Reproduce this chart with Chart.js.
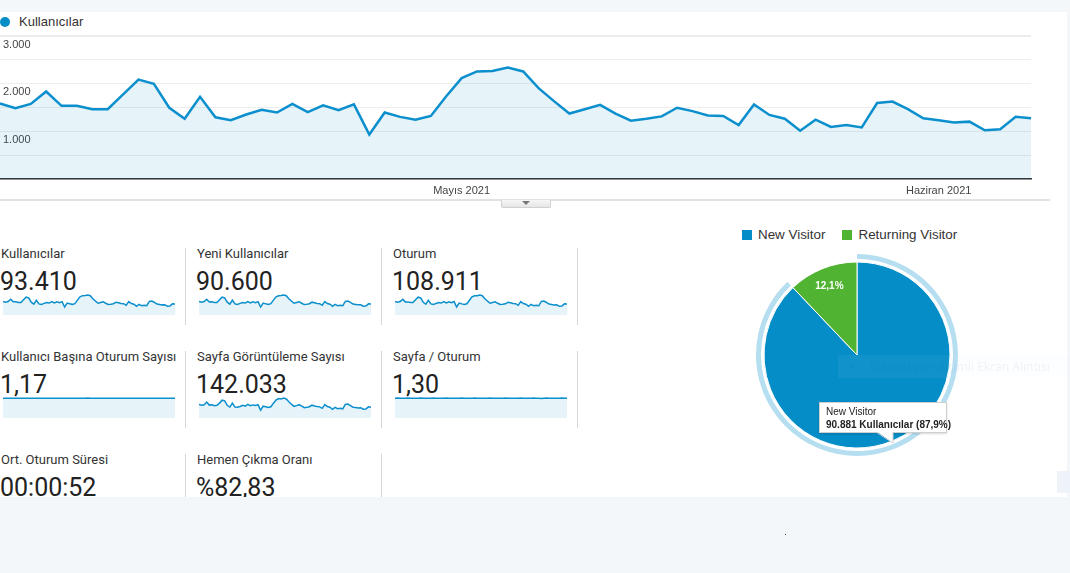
<!DOCTYPE html>
<html>
<head>
<meta charset="utf-8">
<script src="https://cdn.jsdelivr.net/npm/chart.js@4.4.1/dist/chart.umd.min.js"></script>
<style>
  body { margin: 0; width: 1070px; height: 573px; background: #f4f7fa; position: relative; overflow: hidden; font-family: Roboto, Arial, sans-serif; }
  .abs { position: absolute; }
  .panel { left: 0; top: 12px; width: 1067px; height: 485px; background: #fff; }
  .legend-main { left: 0; top: 14px; font: 13px "Liberation Sans", Arial, sans-serif; color: #333; }
  .legend-main .dot { position: absolute; left: 0; top: 3px; width: 10px; height: 10px; border-radius: 50%; background: #058dc7; }
  .legend-main span.t { position: absolute; left: 19px; top: 0; white-space: nowrap; }
  .divider { left: 0; top: 199px; width: 1050px; height: 2px; background: #e2e2e2; }
  .tab { left: 501px; top: 200px; width: 50px; height: 8px; background: linear-gradient(#f6f6f6, #e6e6e6); border: 1px solid #d0d0d0; border-top: none; box-sizing: border-box; border-radius: 0 0 2px 2px; }
  .tab:after { content: ""; position: absolute; left: 20px; top: 1px; border-left: 4px solid transparent; border-right: 4px solid transparent; border-top: 4px solid #777; }
  .cell { width: 185px; height: 80px; }
  .cell .lab { position: absolute; left: 1px; top: 0; font-size: 13px; color: #333; white-space: nowrap; }
  .cell .val { position: absolute; left: 0; top: 21px; font-size: 25px; color: #222; white-space: nowrap; }
  .cell canvas { position: absolute; left: 3px; top: 48px; }
  .vline { width: 1px; background: #d6d6d6; }
  .pie-legend { left: 742px; top: 227px; font: 13.4px "Liberation Sans", Arial, sans-serif; color: #333; white-space: nowrap; }
  .pie-legend i { display: inline-block; width: 10px; height: 10px; vertical-align: -1px; margin-right: 6px; }
  .tip { left: 819px; top: 402px; width: 128px; height: 31px; background: #fff; border: 1px solid #cfcfcf; box-sizing: border-box; box-shadow: 0 1px 2px rgba(0,0,0,0.15); font: 10px "Liberation Sans", Arial, sans-serif; color: #222; z-index: 6; }
  .tip div { position: absolute; left: 6px; white-space: nowrap; }
  .snip { left: 838px; top: 355px; width: 232px; height: 23px; background: rgba(225,236,248,0.06); z-index: 5; font: 12px "Noto Sans", sans-serif; color: rgba(20,60,130,0.06); }
  .bottom { left: 0; top: 497px; width: 1070px; height: 76px; background: #f4f7fa; z-index: 10; }
</style>
</head>
<body>
<div class="abs panel"></div>
<div class="abs legend-main"><div class="dot"></div><span class="t">Kullanıcılar</span></div>
<div class="abs" style="left:-5px;top:26px;width:1041px;height:175px;"><canvas id="mainChart"></canvas></div>
<div class="abs divider"></div>
<div class="abs tab"></div>
<div id="cells"></div>
<div class="abs pie-legend"><i style="background:#058dc7"></i>New Visitor<i style="background:#50b432;margin-left:17px"></i>Returning Visitor</div>
<div class="abs" style="left:752px;top:250px;width:210px;height:210px;"><canvas id="pieChart"></canvas></div>
<div class="abs snip"><span style="position:absolute;left:10px;top:2px;">&#9679;</span><span style="position:absolute;left:32px;top:3px;white-space:nowrap;">Dikdörtgen Biçimli Ekran Alıntısı</span></div>
<div class="abs tip"><div id="tipTitle" style="top:3px;"></div><div id="tipBody" style="top:16px;font-weight:bold;"></div></div>
<svg class="abs" style="left:870px;top:431px;z-index:7;" width="30" height="16"><polygon points="6,0 23,0 23,12" fill="#fff"/><polyline points="6,1 23,12 23,1" fill="none" stroke="#cfcfcf" stroke-width="1"/></svg>
<div class="abs" style="left:1057px;top:471px;width:13px;height:22px;background:#eef3f9;"></div>
<div class="abs bottom"></div>
<div class="abs" style="left:785px;top:534px;width:1px;height:1px;background:#444;z-index:11;"></div>

<script>
// days: 1 Nisan - 7 Haziran 2021
const days = [
  '1 Nis','2 Nis','3 Nis','4 Nis','5 Nis','6 Nis','7 Nis','8 Nis','9 Nis','10 Nis',
  '11 Nis','12 Nis','13 Nis','14 Nis','15 Nis','16 Nis','17 Nis','18 Nis','19 Nis','20 Nis',
  '21 Nis','22 Nis','23 Nis','24 Nis','25 Nis','26 Nis','27 Nis','28 Nis','29 Nis','30 Nis',
  '1 May','2 May','3 May','4 May','5 May','6 May','7 May','8 May','9 May','10 May',
  '11 May','12 May','13 May','14 May','15 May','16 May','17 May','18 May','19 May','20 May',
  '21 May','22 May','23 May','24 May','25 May','26 May','27 May','28 May','29 May','30 May',
  '31 May','1 Haz','2 Haz','3 Haz','4 Haz','5 Haz','6 Haz','7 Haz'
];
const tickDays = ['1 May', '1 Haz'];
const tickLabels = ['Mayıs 2021', 'Haziran 2021'];
const yTicks = [1000, 2000, 3000];

const users = [
  1580,1480,1570,1830,1530,1530,1460,1460,1770,2080,
  1990,1490,1260,1720,1290,1230,1350,1450,1390,1570,
  1400,1540,1440,1560,930,1390,1300,1240,1320,1730,
  2110,2250,2260,2330,2250,1900,1630,1370,1460,1550,
  1370,1220,1260,1310,1490,1420,1330,1320,1130,1560,
  1340,1260,1010,1240,1090,1130,1080,1590,1620,1460,
  1270,1230,1180,1200,1020,1040,1300,1270
];
const newUsers = [
  1540,1440,1520,1780,1480,1490,1420,1410,1720,2020,
  1930,1450,1220,1670,1250,1190,1310,1410,1350,1520,
  1360,1500,1400,1510,900,1350,1260,1200,1280,1680,
  2050,2180,2200,2260,2180,1840,1580,1330,1420,1500,
  1330,1180,1220,1270,1450,1380,1290,1280,1100,1510,
  1300,1220,980,1200,1060,1100,1050,1540,1570,1420,
  1230,1190,1150,1160,990,1010,1260,1230
];
const sessions = [
  1850,1730,1840,2140,1790,1790,1710,1710,2070,2430,
  2330,1740,1470,2010,1510,1440,1580,1700,1630,1840,
  1640,1800,1680,1830,1090,1630,1520,1450,1540,2020,
  2470,2630,2640,2730,2630,2220,1910,1600,1710,1810,
  1600,1430,1470,1530,1740,1660,1560,1540,1320,1830,
  1570,1470,1180,1450,1280,1320,1260,1860,1900,1710,
  1490,1440,1380,1400,1190,1220,1520,1490
];
const pageviews = [
  2400,2280,2350,2830,2300,2370,2200,2250,2650,3170,
  3050,2260,1950,2650,1950,1900,2040,2250,2100,2420,
  2180,2330,2220,2380,1380,2100,2010,1880,2000,2640,
  3200,3450,3400,3560,3380,2900,2460,2080,2200,2370,
  2100,1840,1900,2000,2280,2140,2050,1980,1720,2380,
  2030,1930,1530,1880,1650,1730,1640,2420,2480,2200,
  1920,1880,1780,1840,1560,1580,1990,1930
];
const sessionsPerUser = [
  1.17,1.17,1.17,1.17,1.17,1.17,1.17,1.17,1.17,1.17,
  1.17,1.17,1.16,1.17,1.17,1.17,1.17,1.17,1.17,1.17,
  1.17,1.17,1.17,1.17,1.17,1.17,1.17,1.17,1.17,1.17,
  1.17,1.17,1.17,1.18,1.17,1.17,1.17,1.17,1.17,1.17,
  1.17,1.17,1.17,1.17,1.17,1.17,1.17,1.17,1.17,1.17,
  1.17,1.17,1.17,1.17,1.17,1.17,1.17,1.17,1.17,1.17,
  1.17,1.17,1.17,1.17,1.17,1.17,1.17,1.17
];
const pagesPerSession = [
  1.30,1.31,1.29,1.30,1.30,1.31,1.29,1.30,1.29,1.30,
  1.31,1.30,1.29,1.30,1.30,1.31,1.30,1.29,1.30,1.30,
  1.31,1.30,1.30,1.29,1.30,1.30,1.31,1.30,1.30,1.29,
  1.30,1.31,1.30,1.30,1.29,1.30,1.30,1.31,1.30,1.30,
  1.29,1.30,1.30,1.31,1.30,1.30,1.29,1.30,1.30,1.31,
  1.30,1.29,1.30,1.30,1.31,1.30,1.29,1.28,1.30,1.31,
  1.30,1.30,1.29,1.30,1.30,1.31,1.30,1.30
];

const metricLabels = ['Kullanıcılar', 'Yeni Kullanıcılar', 'Oturum', 'Kullanıcı Başına Oturum Sayısı',
  'Sayfa Görüntüleme Sayısı', 'Sayfa / Oturum', 'Ort. Oturum Süresi', 'Hemen Çıkma Oranı'];
const metricValues = ['93.410', '90.600', '108.911', '1,17', '142.033', '1,30', '00:00:52', '%82,83'];
const metricSeries = [users, newUsers, sessions, sessionsPerUser, pageviews, pagesPerSession, null, null];

const visitorLabels = ['New Visitor', 'Returning Visitor'];
const visitorCounts = [90881, 12510];

const blue = '#0b8fcd';
const fillBlue = 'rgba(5,141,199,0.1)';
const fmt = n => String(n).replace(/\B(?=(\d{3})+(?!\d))/g, '.');

Chart.defaults.animation = false;
Chart.defaults.font.family = '"Liberation Sans", Arial, sans-serif';

// main line chart
new Chart(document.getElementById('mainChart'), {
  type: 'line',
  data: {
    labels: days,
    datasets: [{
      data: users,
      borderColor: blue,
      backgroundColor: fillBlue,
      borderWidth: 2.5,
      pointRadius: 0,
      fill: 'origin',
      tension: 0
    }]
  },
  options: {
    responsive: true,
    maintainAspectRatio: false,
    events: [],
    layout: { padding: { top: 6, left: 0, right: 0, bottom: 0 } },
    plugins: { legend: { display: false }, tooltip: { enabled: false } },
    scales: {
      x: {
        offset: false,
        grid: { display: false, drawTicks: false },
        border: { display: true, color: '#333', width: 1.5 },
        afterFit: axis => { axis.height = 22; },
        ticks: {
          autoSkip: false, maxRotation: 0, padding: 5,
          color: '#444', font: { size: 11 },
          callback: (v, i) => {
            const k = tickDays.indexOf(days[i]);
            return k >= 0 ? tickLabels[k] : '';
          }
        }
      },
      y: {
        min: 0, max: 3000,
        afterFit: axis => { axis.width = 0; },
        border: { display: false },
        grid: {
          drawTicks: false,
          color: ctx => ctx.tick.value === 3000 ? '#ececec' : '#eeeeee',
          lineWidth: ctx => ctx.tick.value === 3000 ? 2 : 1
        },
        ticks: {
          stepSize: 500, mirror: true, padding: 3, labelOffset: 9,
          color: '#444', font: { size: 11 },
          callback: v => yTicks.includes(v) ? fmt(v) : ''
        }
      }
    }
  }
});

// metric cells with sparklines
const cellsEl = document.getElementById('cells');
metricLabels.forEach((label, i) => {
  const col = i % 3, row = Math.floor(i / 3);
  const left = [0, 196, 392][col];
  const top = 246 + row * 103;
  const cell = document.createElement('div');
  cell.className = 'abs cell';
  cell.style.left = left + 'px';
  cell.style.top = top + 'px';
  cell.innerHTML = '<div class="lab">' + label + '</div><div class="val">' + metricValues[i] + '</div>';
  cellsEl.appendChild(cell);

  const line = document.createElement('div');
  line.className = 'abs vline';
  line.style.left = (left + 185) + 'px';
  line.style.top = (top + 2) + 'px';
  line.style.height = '77px';
  cellsEl.appendChild(line);

  const series = metricSeries[i];
  if (!series) return;
  const cv = document.createElement('canvas');
  cv.width = 172; cv.height = 21;
  cv.style.width = '172px'; cv.style.height = '21px';
  cell.appendChild(cv);
  new Chart(cv, {
    type: 'line',
    data: { labels: days, datasets: [{ data: series, borderColor: blue, backgroundColor: fillBlue, borderWidth: 1.5, pointRadius: 0, fill: 'origin', tension: 0 }] },
    options: {
      responsive: false, events: [],
      layout: { padding: 0 },
      plugins: { legend: { display: false }, tooltip: { enabled: false } },
      scales: {
        x: { display: false, offset: false },
        y: { display: false, min: 0, max: Math.max(...series) * 1.05 }
      }
    }
  });
});

// pie chart
const total = visitorCounts[0] + visitorCounts[1];
const pct = v => (v / total * 100).toFixed(1).replace('.', ',') + '%';
document.getElementById('tipTitle').textContent = visitorLabels[0];
document.getElementById('tipBody').textContent = fmt(visitorCounts[0]) + ' Kullanıcılar (' + pct(visitorCounts[0]) + ')';

const sliceLabel = {
  id: 'sliceLabel',
  afterDatasetsDraw(chart) {
    const arc = chart.getDatasetMeta(2).data[1];
    const { x, y, startAngle, endAngle, outerRadius } = arc.getProps(['x', 'y', 'startAngle', 'endAngle', 'outerRadius']);
    const mid = (startAngle + endAngle) / 2;
    const ctx = chart.ctx;
    ctx.save();
    ctx.fillStyle = '#fff';
    ctx.font = 'bold 10px "Liberation Sans", Arial, sans-serif';
    ctx.textAlign = 'center';
    ctx.textBaseline = 'middle';
    ctx.fillText(pct(visitorCounts[1]), x + Math.cos(mid) * outerRadius * 0.8, y + Math.sin(mid) * outerRadius * 0.8);
    ctx.restore();
  }
};

new Chart(document.getElementById('pieChart'), {
  type: 'pie',
  data: {
    labels: visitorLabels,
    datasets: [
      { data: visitorCounts, backgroundColor: ['#b5def0', 'rgba(0,0,0,0)'], borderWidth: 0, weight: 5 },
      { data: visitorCounts, backgroundColor: ['rgba(0,0,0,0)', 'rgba(0,0,0,0)'], borderWidth: 0, weight: 3 },
      { data: visitorCounts, backgroundColor: ['#058dc7', '#50b432'], borderColor: '#fff', borderWidth: 1, weight: 93 }
    ]
  },
  options: {
    responsive: true,
    maintainAspectRatio: false,
    events: [],
    radius: 101,
    layout: { padding: 0 },
    plugins: { legend: { display: false }, tooltip: { enabled: false } }
  },
  plugins: [sliceLabel]
});
</script>
</body>
</html>
